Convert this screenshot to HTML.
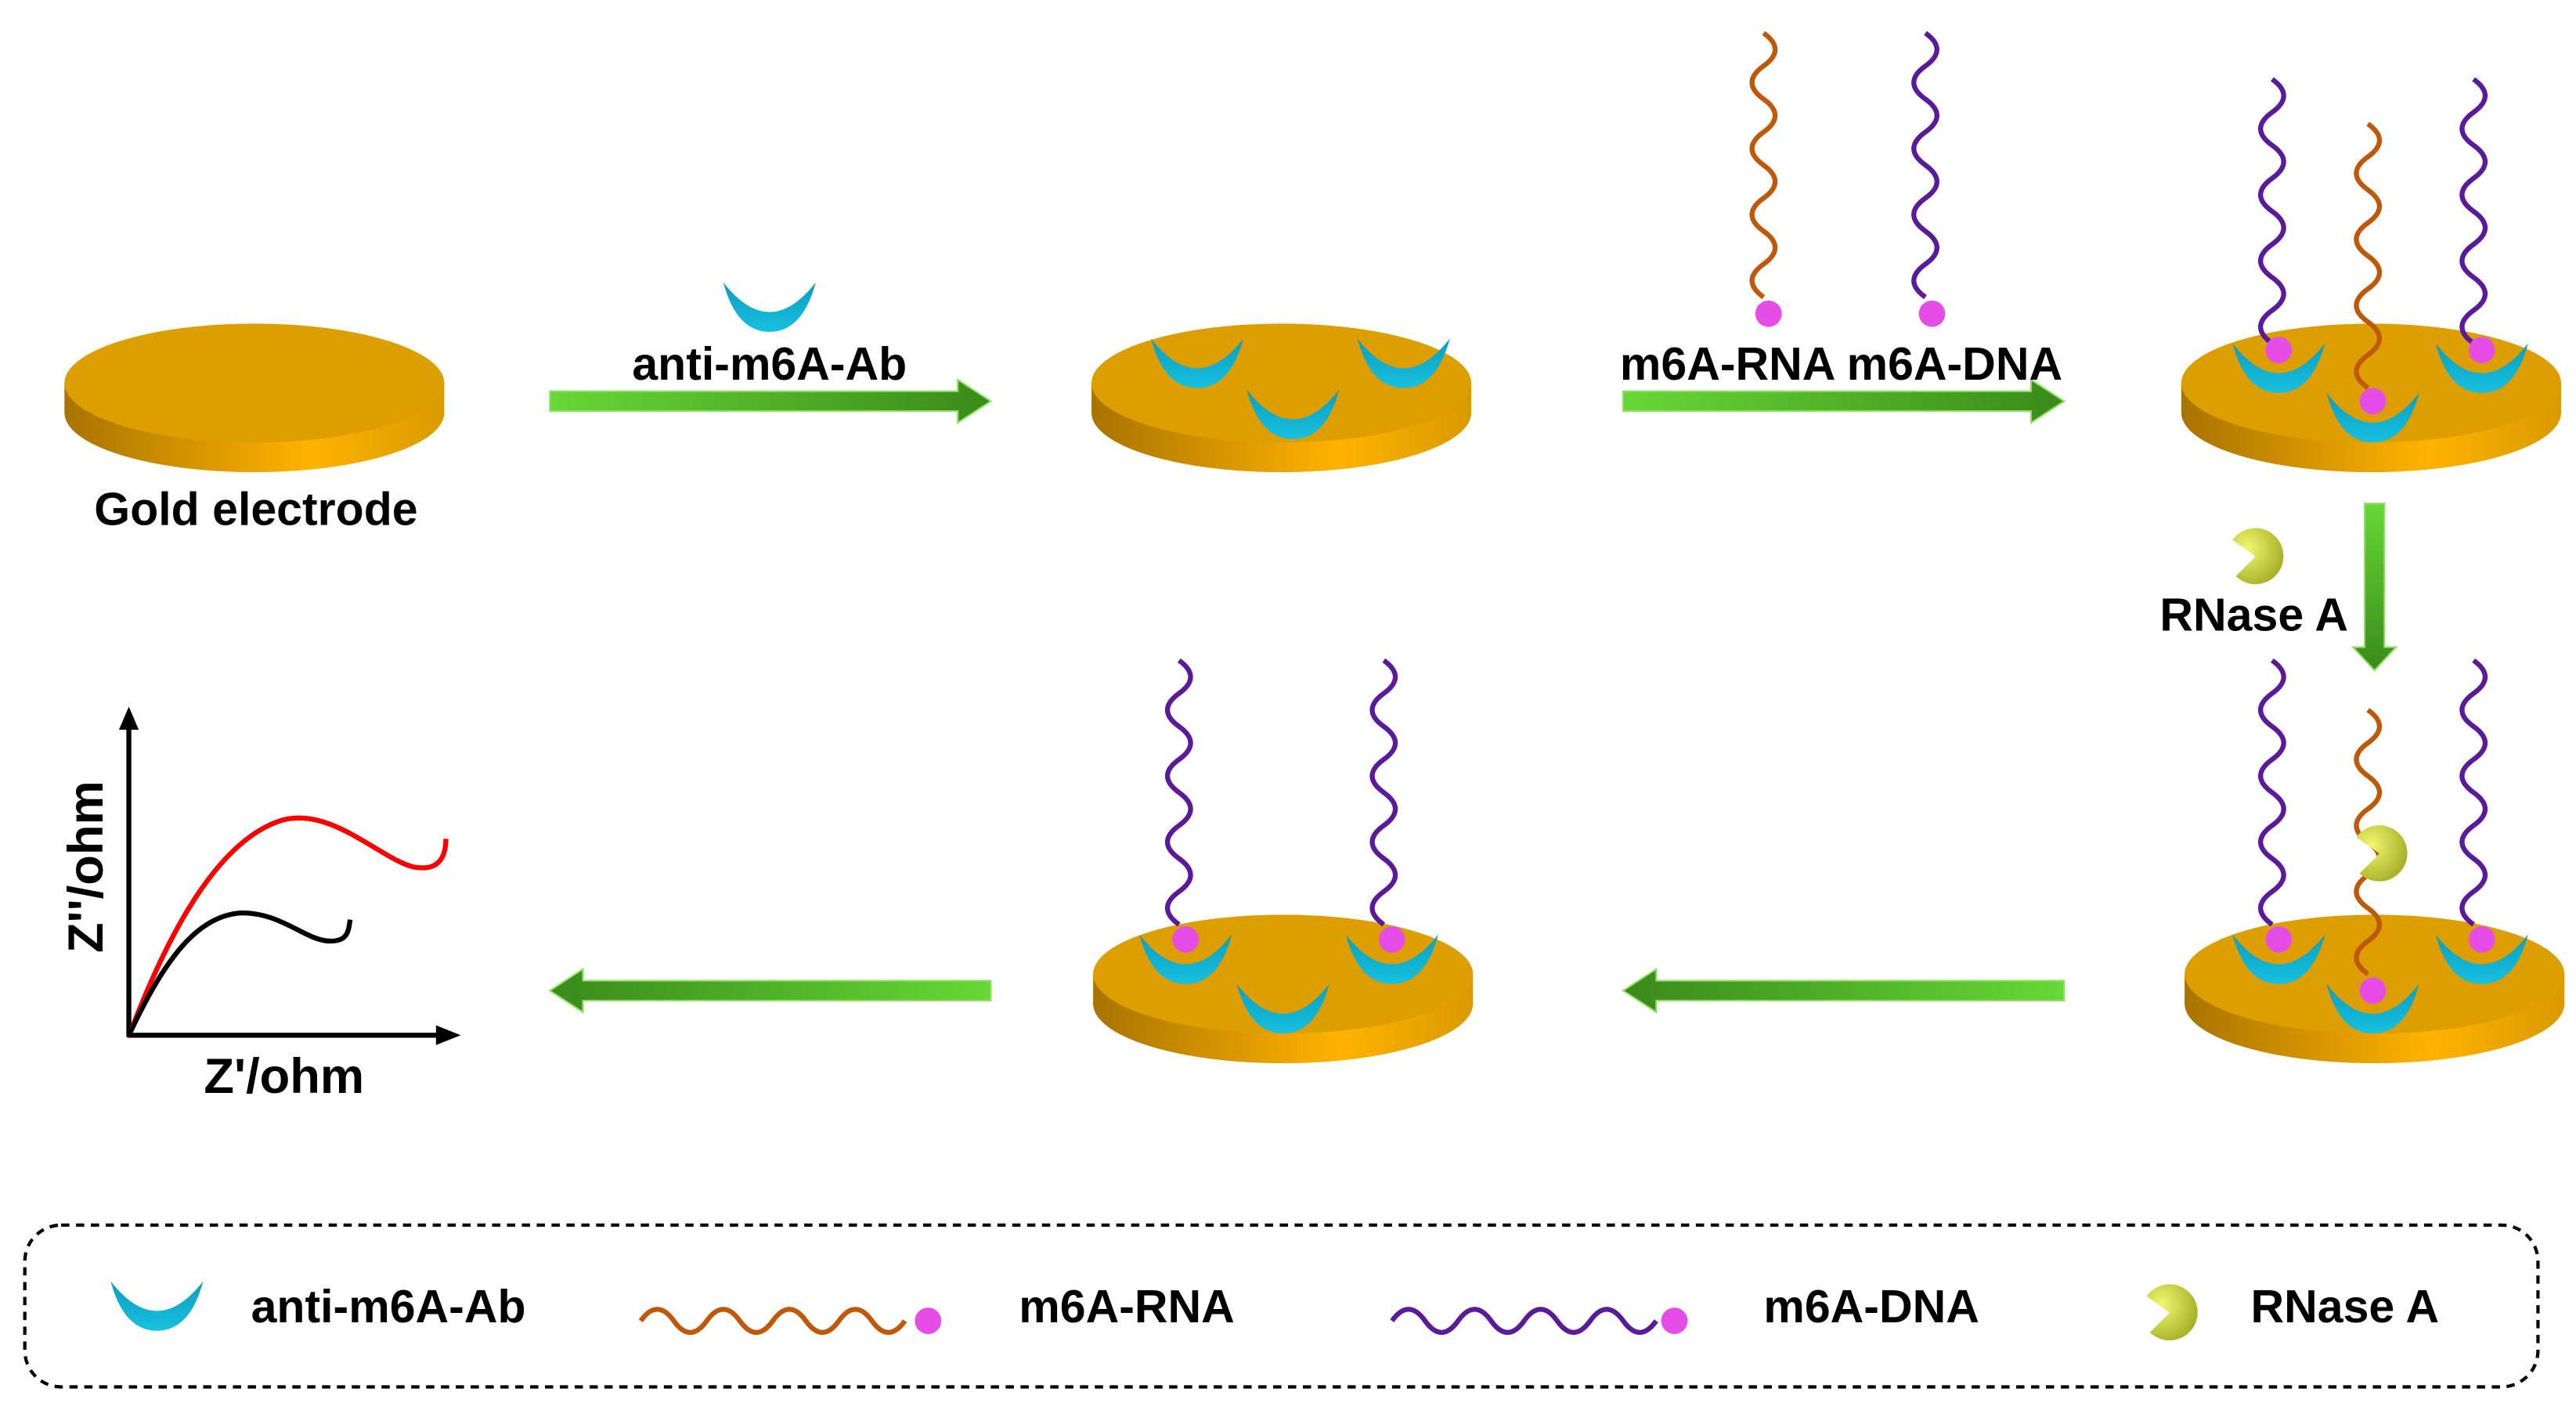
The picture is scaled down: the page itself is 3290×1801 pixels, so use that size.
<!DOCTYPE html>
<html><head><meta charset="utf-8"><style>
html,body{margin:0;padding:0;background:#fff}
svg{display:block}
text{font-family:"Liberation Sans",sans-serif;font-weight:bold;fill:#000}
</style></head><body>
<svg width="3290" height="1801" viewBox="0 0 1560 854" xmlns="http://www.w3.org/2000/svg">
<defs>
<linearGradient id="side" x1="0" x2="1" y1="0" y2="0">
<stop offset="0" stop-color="#a87400"/><stop offset="0.65" stop-color="#ffb300"/><stop offset="1" stop-color="#d99a00"/></linearGradient>
<linearGradient id="cup" x1="0" x2="0" y1="0" y2="1">
<stop offset="0" stop-color="#0a9ec0"/><stop offset="1" stop-color="#19c0de"/></linearGradient>
<linearGradient id="ar" x1="0" x2="1"><stop offset="0" stop-color="#66d836"/><stop offset="1" stop-color="#3a8a1a"/></linearGradient>
<linearGradient id="al" x1="1" x2="0"><stop offset="0" stop-color="#66d836"/><stop offset="1" stop-color="#3a8a1a"/></linearGradient>
<linearGradient id="ad" x1="0" x2="0" y1="0" y2="1"><stop offset="0" stop-color="#66d836"/><stop offset="1" stop-color="#3a8a1a"/></linearGradient>
<radialGradient id="pac" cx="0.3" cy="0.35" r="0.8"><stop offset="0" stop-color="#f0f870"/><stop offset="1" stop-color="#a0a820"/></radialGradient>
<g id="disk">
<path d="M-115,0 L-115,18 A115,36 0 0 0 115,18 L115,0 Z" fill="url(#side)"/>
<ellipse cx="0" cy="0" rx="115" ry="36" fill="#dd9e00"/>
</g>
<path id="cupp" d="M-28,-14 Q-20,16 0,16 Q20,16 28,-14 Q14,4 0,4 Q-14,4 -28,-14 Z" fill="url(#cup)"/>
<path id="pacp" d="M0,0 L-14,-10 A17,17 0 1 1 -12,12 Z" fill="url(#pac)"/>
<path id="hel" d="M0,0 q14,10 0,20 t0,20 t0,20 t0,20 t0,20 t0,20 t0,20 t0,20" fill="none" stroke-width="3"/>
</defs>

<use href="#disk" x="154" y="232"/>
<use href="#disk" x="776" y="232"/>
<use href="#disk" x="1436" y="232"/>
<use href="#disk" x="1438" y="590"/>
<use href="#disk" x="777" y="590"/>

<use href="#cupp" x="725" y="219"/><use href="#cupp" x="850" y="219"/><use href="#cupp" x="783" y="250"/>

<use href="#hel" x="1068" y="20" stroke="#c0580a"/>
<circle cx="1071" cy="190" r="8" fill="#e64ce6"/>
<use href="#hel" x="1166" y="20" stroke="#5a1a9a"/>
<circle cx="1170" cy="190" r="8" fill="#e64ce6"/>

<use href="#hel" x="1376" y="48" stroke="#5a1a9a"/>
<use href="#hel" x="1498" y="48" stroke="#5a1a9a"/>
<use href="#hel" x="1434" y="75" stroke="#c0580a"/>
<use href="#cupp" x="1380" y="222"/><use href="#cupp" x="1503" y="222"/><use href="#cupp" x="1437" y="252"/>
<circle cx="1380" cy="212" r="8" fill="#e64ce6"/><circle cx="1503" cy="212" r="8" fill="#e64ce6"/><circle cx="1437" cy="243" r="8" fill="#e64ce6"/>

<use href="#hel" x="1376" y="400" stroke="#5a1a9a"/>
<use href="#hel" x="1498" y="400" stroke="#5a1a9a"/>
<use href="#hel" x="1434" y="430" stroke="#c0580a"/>
<use href="#cupp" x="1380" y="580"/><use href="#cupp" x="1503" y="580"/><use href="#cupp" x="1437" y="610"/>
<circle cx="1380" cy="569" r="8" fill="#e64ce6"/><circle cx="1503" cy="569" r="8" fill="#e64ce6"/><circle cx="1437" cy="600" r="8" fill="#e64ce6"/>
<use href="#pacp" x="1441" y="517"/>

<use href="#hel" x="714" y="400" stroke="#5a1a9a"/>
<use href="#hel" x="838" y="400" stroke="#5a1a9a"/>
<use href="#cupp" x="718" y="580"/><use href="#cupp" x="843" y="580"/><use href="#cupp" x="777" y="610"/>
<circle cx="718" cy="569" r="8" fill="#e64ce6"/><circle cx="843" cy="569" r="8" fill="#e64ce6"/>

<path d="M333,237 H580 V230 L600,243 L580,256 V249 H333 Z" fill="url(#ar)" stroke="#8ee060" stroke-width="1"/>
<path d="M983,237 H1230 V230 L1250,243 L1230,256 V249 H983 Z" fill="url(#ar)" stroke="#8ee060" stroke-width="1"/>
<path d="M1432,305 H1444 V392 L1451,392 L1438,406 L1425,392 L1432,392 Z" fill="url(#ad)" stroke="#8ee060" stroke-width="1"/>
<path d="M600,594 H353 V587 L333,600 L353,613 V606 H600 Z" fill="url(#al)" stroke="#8ee060" stroke-width="1"/>
<path d="M1250,594 H1003 V587 L983,600 L1003,613 V606 H1250 Z" fill="url(#al)" stroke="#8ee060" stroke-width="1"/>

<use href="#cupp" x="466" y="185"/>
<text x="466" y="230" font-size="28" text-anchor="middle">anti-m6A-Ab</text>
<text x="155" y="318" font-size="28" text-anchor="middle">Gold electrode</text>
<text x="1115" y="230" font-size="28" text-anchor="middle">m6A-RNA m6A-DNA</text>
<use href="#pacp" x="1366" y="337"/>
<text x="1365" y="382" font-size="28" text-anchor="middle">RNase A</text>

<line x1="78" y1="440" x2="78" y2="628" stroke="#000" stroke-width="3"/>
<path d="M72,442 L78,428 L84,442 Z" fill="#000"/>
<line x1="77" y1="627" x2="266" y2="627" stroke="#000" stroke-width="3"/>
<path d="M264,621 L279,627 L264,633 Z" fill="#000"/>
<path d="M79,625 C100,570 130,510 170,497 C200,488 230,520 250,525 C265,528 270,520 270,508" fill="none" stroke="#f00" stroke-width="3"/>
<path d="M79,625 C100,580 120,555 145,553 C170,552 185,570 200,570 C210,570 211,565 212,557" fill="none" stroke="#000" stroke-width="3"/>
<text transform="translate(62,525) rotate(-90)" font-size="30" text-anchor="middle">Z''/ohm</text>
<text x="172" y="662" font-size="30" text-anchor="middle">Z'/ohm</text>

<rect x="15" y="742" width="1522" height="98" rx="22" fill="none" stroke="#000" stroke-width="2" stroke-dasharray="5,4"/>
<use href="#cupp" x="95" y="790"/>
<text x="152" y="801" font-size="28">anti-m6A-Ab</text>
<path d="M388,800 q10,-14 20,0 t20,0 t20,0 t20,0 t20,0 t20,0 t20,0 t20,0" fill="none" stroke="#c0580a" stroke-width="3"/>
<circle cx="562" cy="800" r="8" fill="#e64ce6"/>
<text x="617" y="801" font-size="28">m6A-RNA</text>
<path d="M843,800 q10,-14 20,0 t20,0 t20,0 t20,0 t20,0 t20,0 t20,0 t20,0" fill="none" stroke="#5a1a9a" stroke-width="3"/>
<circle cx="1014" cy="800" r="8" fill="#e64ce6"/>
<text x="1068" y="801" font-size="28">m6A-DNA</text>
<use href="#pacp" x="1314" y="795"/>
<text x="1363" y="801" font-size="28">RNase A</text>
</svg>
</body></html>
